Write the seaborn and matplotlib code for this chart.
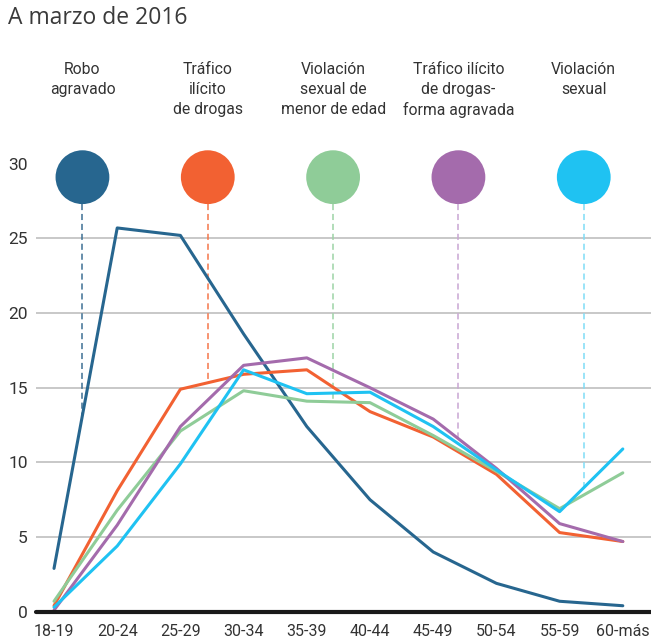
import matplotlib
matplotlib.use("Agg")
import matplotlib.pyplot as plt
import numpy as np
import pandas as pd
import seaborn as sns

age_groups = ["18-19", "20-24", "25-29", "30-34", "35-39", "40-44", "45-49", "50-54", "55-59", "60-más"]
crimes = [
    "Robo\nagravado",
    "Tráfico\nilícito\nde drogas",
    "Violación\nsexual de\nmenor de edad",
    "Tráfico ilícito\nde drogas-\nforma agravada",
    "Violación\nsexual",
]
robo = [2.9, 25.7, 25.2, 18.6, 12.4, 7.5, 4.0, 1.9, 0.7, 0.4]
trafico = [0.4, 8.1, 14.9, 15.9, 16.2, 13.4, 11.7, 9.2, 5.3, 4.7]
violacion_menor = [0.7, 6.8, 12.1, 14.8, 14.1, 14.0, 11.8, 9.4, 6.9, 9.3]
trafico_agravado = [0.1, 5.8, 12.4, 16.5, 17.0, 15.0, 12.9, 9.6, 5.9, 4.7]
violacion = [0.3, 4.4, 9.9, 16.2, 14.6, 14.7, 12.4, 9.5, 6.7, 10.9]
series = [robo, trafico, violacion_menor, trafico_agravado, violacion]

colors = ["#27668f", "#f26132", "#8fcc98", "#a46bac", "#1fc2f2"]
dash_colors = ["#3d6f93", "#f5764a", "#9dd3a5", "#c9a6d3", "#7fdcf6"]

df = pd.DataFrame(
    [(c, i, v) for c, vals in zip(crimes, series) for i, v in enumerate(vals)],
    columns=["delito", "pos", "valor"],
)

sns.set_style("white")
plt.rcParams["font.family"] = ["Roboto", "DejaVu Sans"]

fig = plt.figure(figsize=(6.51, 6.39), dpi=100)
ax = fig.add_axes([0.0553, 0.0427, 0.9447, 0.7478])

sns.lineplot(data=df, x="pos", y="valor", hue="delito", palette=dict(zip(crimes, colors)),
             linewidth=2.2, legend=False, ax=ax, zorder=3)

ax.set_xlim(-0.285, 9.446)
ax.set_ylim(0, 32)
ax.set_yticks([0, 5, 10, 15, 20, 25, 30])
ax.set_yticklabels(["0", "5", "10", "15", "20", "25", "30"], fontsize=12.5, color="#333333")
ax.set_xticks(range(len(age_groups)))
ax.set_xticklabels(age_groups, fontsize=11.5, color="#333333")
ax.tick_params(axis="both", length=0)
ax.tick_params(axis="y", pad=6)
ax.tick_params(axis="x", pad=9)
ax.set_xlabel("")
ax.set_ylabel("")
for y in [5, 10, 15, 20, 25]:
    ax.axhline(y, color="#c8c8c8", lw=1.4, zorder=1)
ax.axhline(0, color="#1a1a1a", lw=3, zorder=4, clip_on=False)
for s in ax.spines.values():
    s.set_visible(False)

circle_y = 29.1
circle_bottom = 27.3
for k, (vals, c, dc, name) in enumerate(zip(series, colors, dash_colors, crimes)):
    cx = 0.45 + 1.983 * k
    end = np.interp(cx, np.arange(len(vals)), vals)
    ax.plot([cx, cx], [circle_bottom, end], color=dc, lw=1.1, ls=(0, (4, 2.5)), zorder=2)
    ax.scatter([cx], [circle_y], s=1500, color=c, edgecolors="none", zorder=5)
    xf, _ = fig.transFigure.inverted().transform(ax.transData.transform((cx, 0)))
    fig.text(xf, 1 - 62 / 639, name, ha="center", va="top", fontsize=11.3,
             color="#333333", linespacing=1.4)

fig.text(8 / 651, 1 - 6 / 639, "A marzo de 2016", ha="left", va="top",
         fontsize=16.5, color="#3a3a3a", family=["Open Sans", "DejaVu Sans"])

fig.savefig("out.png", dpi=100)
